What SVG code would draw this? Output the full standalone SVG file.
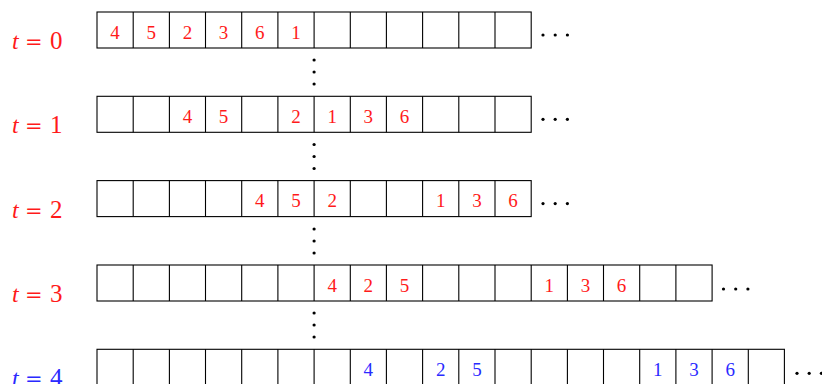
<svg xmlns="http://www.w3.org/2000/svg" width="822" height="384" viewBox="0 0 822 384">
<defs>
<style>
.cell{fill:none;stroke:#000;stroke-width:1.1}
.lbl{font-family:"Liberation Serif",serif;font-size:24px}
.lbl .t{font-style:italic}
.lbl .eq{font-family:"DejaVu Serif",serif;font-size:21px}
.lbl .d{font-size:25px}
.num{font-family:"Liberation Serif",serif;font-size:19px;text-anchor:middle}
.red{fill:#ff1a1a}
.blue{fill:#2a2aff}
.dot{fill:#000}
</style>
<g id="vd">
<circle class="dot" cx="0" cy="0" r="1.6"/>
<circle class="dot" cx="0" cy="12" r="1.6"/>
<circle class="dot" cx="0" cy="24" r="1.6"/>
</g>
<g id="hd">
<circle class="dot" cx="0" cy="0" r="1.6"/>
<circle class="dot" cx="12.2" cy="0" r="1.6"/>
<circle class="dot" cx="24.4" cy="0" r="1.6"/>
</g>
</defs>
<rect width="822" height="384" fill="#fff"/>

<g id="row0">
<text class="lbl red" y="49"><tspan class="t" x="12">t</tspan><tspan class="eq" x="25">=</tspan><tspan class="d" x="50">0</tspan></text>
<rect class="cell" x="97" y="12" width="434.2" height="36"/>
<path class="cell" d="M133.2 12v36M169.4 12v36M205.5 12v36M241.7 12v36M277.9 12v36M314.1 12v36M350.3 12v36M386.4 12v36M422.6 12v36M458.8 12v36M495 12v36"/>
<g class="num red">
<text x="115.1" y="38.5">4</text><text x="151.3" y="38.5">5</text><text x="187.5" y="38.5">2</text><text x="223.6" y="38.5">3</text><text x="259.8" y="38.5">6</text><text x="296" y="38.5">1</text>
</g>
<use href="#hd" x="543" y="35"/>
</g>

<g id="row1">
<text class="lbl red" y="133.3"><tspan class="t" x="12">t</tspan><tspan class="eq" x="25">=</tspan><tspan class="d" x="50">1</tspan></text>
<rect class="cell" x="97" y="96.3" width="434.2" height="36"/>
<path class="cell" d="M133.2 96.3v36M169.4 96.3v36M205.5 96.3v36M241.7 96.3v36M277.9 96.3v36M314.1 96.3v36M350.3 96.3v36M386.4 96.3v36M422.6 96.3v36M458.8 96.3v36M495 96.3v36"/>
<g class="num red">
<text x="187.5" y="122.8">4</text><text x="223.6" y="122.8">5</text><text x="296" y="122.8">2</text><text x="332.2" y="122.8">1</text><text x="368.3" y="122.8">3</text><text x="404.5" y="122.8">6</text>
</g>
<use href="#hd" x="543" y="119.3"/>
</g>

<g id="row2">
<text class="lbl red" y="217.6"><tspan class="t" x="12">t</tspan><tspan class="eq" x="25">=</tspan><tspan class="d" x="50">2</tspan></text>
<rect class="cell" x="97" y="180.6" width="434.2" height="36"/>
<path class="cell" d="M133.2 180.6v36M169.4 180.6v36M205.5 180.6v36M241.7 180.6v36M277.9 180.6v36M314.1 180.6v36M350.3 180.6v36M386.4 180.6v36M422.6 180.6v36M458.8 180.6v36M495 180.6v36"/>
<g class="num red">
<text x="259.8" y="207.1">4</text><text x="296" y="207.1">5</text><text x="332.2" y="207.1">2</text><text x="440.7" y="207.1">1</text><text x="476.9" y="207.1">3</text><text x="513.1" y="207.1">6</text>
</g>
<use href="#hd" x="543" y="203.6"/>
</g>

<g id="row3">
<text class="lbl red" y="302"><tspan class="t" x="12">t</tspan><tspan class="eq" x="25">=</tspan><tspan class="d" x="50">3</tspan></text>
<rect class="cell" x="97" y="265" width="615.1" height="36"/>
<path class="cell" d="M133.2 265v36M169.4 265v36M205.5 265v36M241.7 265v36M277.9 265v36M314.1 265v36M350.3 265v36M386.4 265v36M422.6 265v36M458.8 265v36M495 265v36M531.2 265v36M567.4 265v36M603.5 265v36M639.7 265v36M675.9 265v36"/>
<g class="num red">
<text x="332.2" y="291.5">4</text><text x="368.3" y="291.5">2</text><text x="404.5" y="291.5">5</text><text x="549.3" y="291.5">1</text><text x="585.5" y="291.5">3</text><text x="621.6" y="291.5">6</text>
</g>
<use href="#hd" x="723.5" y="289"/>
</g>

<g id="row4">
<text class="lbl blue" y="386.3"><tspan class="t" x="12">t</tspan><tspan class="eq" x="25">=</tspan><tspan class="d" x="50">4</tspan></text>
<rect class="cell" x="97" y="349.3" width="687.4" height="36"/>
<path class="cell" d="M133.2 349.3v36M169.4 349.3v36M205.5 349.3v36M241.7 349.3v36M277.9 349.3v36M314.1 349.3v36M350.3 349.3v36M386.4 349.3v36M422.6 349.3v36M458.8 349.3v36M495 349.3v36M531.2 349.3v36M567.4 349.3v36M603.5 349.3v36M639.7 349.3v36M675.9 349.3v36M712.1 349.3v36M748.3 349.3v36"/>
<g class="num blue">
<text x="368.3" y="375.8">4</text><text x="440.7" y="375.8">2</text><text x="476.9" y="375.8">5</text><text x="657.8" y="375.8">1</text><text x="694" y="375.8">3</text><text x="730.2" y="375.8">6</text>
</g>
<use href="#hd" x="797" y="373.3"/>
</g>

<g id="connectors">
<use href="#vd" x="314.1" y="60"/>
<use href="#vd" x="314.1" y="144.5"/>
<use href="#vd" x="314.1" y="229"/>
<use href="#vd" x="314.1" y="313"/>
</g>
</svg>
